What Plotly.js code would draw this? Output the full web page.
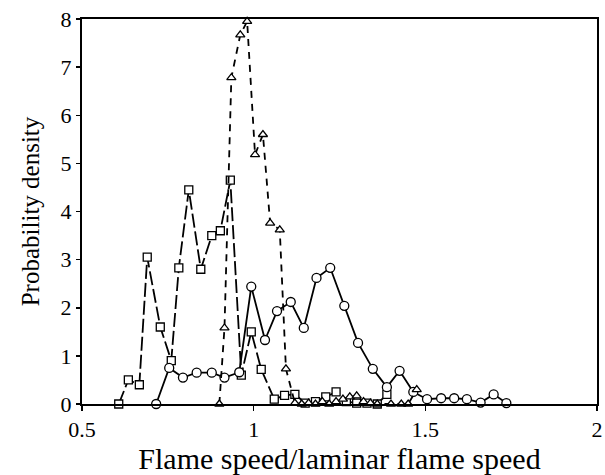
<!DOCTYPE html>
<html>
<head>
<meta charset="utf-8">
<script src="https://cdn.plot.ly/plotly-3.0.1.min.js"></script>
<style>html,body{margin:0;padding:0;background:#fff;}#chart{width:605px;height:475px;}</style>
</head>
<body>
<div id="chart"></div>
<script>
// Squares series (long-dash line)
const sqX = [0.607, 0.635, 0.667, 0.69, 0.728, 0.76, 0.782, 0.811, 0.846, 0.878, 0.903, 0.932, 0.964, 0.993, 1.022, 1.06, 1.09, 1.12, 1.15, 1.18, 1.21, 1.24, 1.27, 1.30, 1.33, 1.36, 1.388];
const sqY = [0.0, 0.5, 0.4, 3.05, 1.6, 0.9, 2.83, 4.45, 2.8, 3.5, 3.6, 4.65, 0.6, 1.5, 0.72, 0.1, 0.18, 0.2, 0.02, 0.05, 0.15, 0.25, 0.05, 0.02, 0.02, 0.0, 0.2];
// Circles series (solid line)
const ciX = [0.716, 0.754, 0.794, 0.834, 0.878, 0.915, 0.958, 0.993, 1.033, 1.068, 1.108, 1.146, 1.183, 1.223, 1.264, 1.304, 1.347, 1.388, 1.425, 1.465, 1.505, 1.546, 1.584, 1.621, 1.661, 1.699, 1.736];
const ciY = [0.0, 0.75, 0.55, 0.65, 0.65, 0.55, 0.66, 2.44, 1.33, 1.93, 2.12, 1.58, 2.62, 2.83, 2.04, 1.27, 0.73, 0.35, 0.69, 0.25, 0.1, 0.12, 0.12, 0.1, 0.03, 0.2, 0.02];
// Triangles series (dashed line)
const trX = [0.9, 0.915, 0.935, 0.961, 0.981, 1.004, 1.027, 1.048, 1.076, 1.094, 1.12, 1.14, 1.16, 1.18, 1.2, 1.22, 1.24, 1.26, 1.28, 1.30, 1.32, 1.34, 1.36, 1.40, 1.43, 1.45, 1.475];
const trY = [0.0, 1.58, 6.78, 7.67, 7.95, 5.18, 5.6, 3.76, 3.62, 0.73, 0.02, 0.0, 0.02, 0.0, 0.05, 0.0, 0.05, 0.1, 0.15, 0.17, 0.05, 0.02, 0.0, 0.0, 0.0, 0.0, 0.3];

const xTicks = [0.5, 1, 1.5, 2];
const xTickText = ['0.5', '1', '1.5', '2'];
const yTicks = [0, 1, 2, 3, 4, 5, 6, 7, 8];

const mk = (sym, sz) => ({symbol: sym, size: sz, color: '#fff', line: {color: '#000', width: 1.3}});

const traces = [
  {x: sqX, y: sqY, mode: 'lines+markers', line: {color: '#000', width: 1.8, dash: '14px,4px'}, marker: mk('square', 8), cliponaxis: false},
  {x: ciX, y: ciY, mode: 'lines+markers', line: {color: '#000', width: 1.8}, marker: mk('circle', 9), cliponaxis: false},
  {x: trX, y: trY, mode: 'lines+markers', line: {color: '#000', width: 1.8, dash: '7px,6px'}, marker: mk('triangle-up', 8), cliponaxis: false}
];

const font = {family: '"Liberation Serif", "Times New Roman", serif', color: '#000'};

const layout = {
  width: 605, height: 475,
  margin: {l: 82, r: 8, t: 19, b: 71},
  paper_bgcolor: '#fff', plot_bgcolor: '#fff',
  showlegend: false,
  font: Object.assign({size: 22}, font),
  xaxis: {
    range: [0.5, 2], tickvals: xTicks, ticktext: xTickText,
    showgrid: false, zeroline: false, showline: true, mirror: true,
    linecolor: '#000', linewidth: 2, ticks: 'outside', ticklen: 5, tickwidth: 1.5, tickcolor: '#000',
    ticklabeloverflow: 'allow',
    tickfont: Object.assign({size: 22}, font),
    title: {text: 'Flame speed/laminar flame speed', font: Object.assign({size: 30}, font), standoff: 2}
  },
  yaxis: {
    range: [0, 8], tickvals: yTicks,
    showgrid: false, zeroline: false, showline: true, mirror: true,
    linecolor: '#000', linewidth: 2, ticks: 'outside', ticklen: 4, tickwidth: 1.5, tickcolor: '#000',
    tickfont: Object.assign({size: 22}, font),
    title: {text: 'Probability density', font: Object.assign({size: 25}, font), standoff: 14}
  }
};

Plotly.newPlot('chart', traces, layout, {displayModeBar: false, staticPlot: true});
</script>
</body>
</html>
